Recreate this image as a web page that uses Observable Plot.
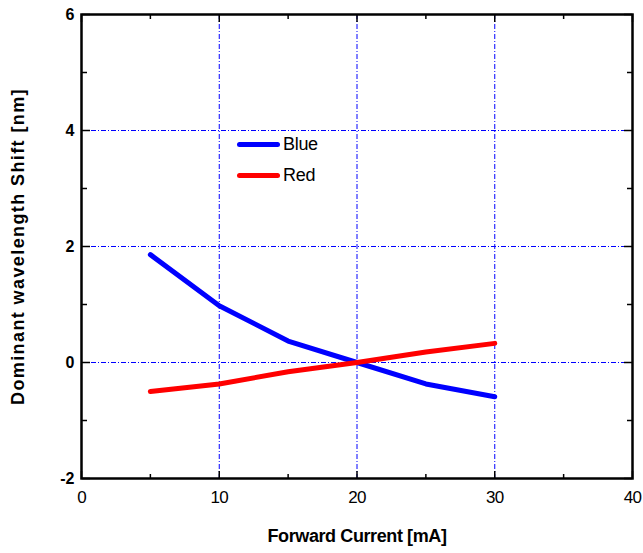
<!DOCTYPE html>
<html><head><meta charset="utf-8">
<script src="https://cdn.jsdelivr.net/npm/d3@7"></script>
<script src="https://cdn.jsdelivr.net/npm/@observablehq/plot@0.6"></script>
<style>
html,body{margin:0;padding:0;background:#fff;}
#wrap{position:relative;width:643px;height:553px;overflow:hidden;}
.leg{position:absolute;left:237px;display:flex;align-items:center;font:18px "Liberation Sans",Arial,sans-serif;color:#000;letter-spacing:-0.3px;}
.sw{width:43px;height:5px;border-radius:3px;margin-right:3px;}
</style></head><body><div id="wrap"></div>
<script>
const current = [5, 10, 15, 20, 25, 30];
const blueShift = [1.86, 0.98, 0.37, 0, -0.37, -0.59];
const redShift = [-0.5, -0.37, -0.16, 0, 0.18, 0.33];
const seriesNames = ["Blue", "Red"];
const seriesColors = ["#0000ff", "#ff0000"];
const xMajorTicks = [0, 10, 20, 30, 40];
const xMinorTicks = [5, 15, 25, 35];
const yMajorTicks = [-2, 0, 2, 4, 6];
const yMinorTicks = [-1, 1, 3, 5];
const xGrid = [10, 20, 30];
const yGrid = [0, 2, 4];
const xTitle = "Forward Current [mA]";
const yTitle = "Dominant wavelength Shift [nm]";

const rows = [];
current.forEach((c, i) => rows.push({x: c, y: blueShift[i], s: seriesNames[0]}));
current.forEach((c, i) => rows.push({x: c, y: redShift[i], s: seriesNames[1]}));

const font = '"Liberation Sans", Arial, sans-serif';
const gridStyle = {stroke: "#0000ff", strokeOpacity: 1, strokeWidth: 1, strokeDasharray: "5,2,1,2"};
const tk = {fill: "none", label: null, stroke: "black", strokeWidth: 1.5};
const plain = d => String(d);

const chart = Plot.plot({
  width: 643, height: 553,
  marginLeft: 81, marginRight: 11, marginTop: 14, marginBottom: 75,
  x: {domain: [0, 40]},
  y: {domain: [-2, 6]},
  color: {domain: seriesNames, range: seriesColors},
  style: {fontFamily: font, background: "white", color: "black"},
  marks: [
    Plot.gridX(xGrid, gridStyle),
    Plot.gridY(yGrid, gridStyle),
    Plot.line(rows, {x: "x", y: "y", z: "s", stroke: "s", strokeWidth: 5, strokeLinecap: "round", strokeLinejoin: "round"}),
    // inward ticks on all four sides
    Plot.axisX(xMajorTicks, {...tk, anchor: "top", frameAnchor: "bottom", tickSize: 8}),
    Plot.axisX(xMinorTicks, {...tk, anchor: "top", frameAnchor: "bottom", tickSize: 5}),
    Plot.axisX(xMajorTicks, {...tk, anchor: "bottom", frameAnchor: "top", tickSize: 8}),
    Plot.axisX(xMinorTicks, {...tk, anchor: "bottom", frameAnchor: "top", tickSize: 5}),
    Plot.axisY(yMajorTicks, {...tk, anchor: "right", frameAnchor: "left", tickSize: 8}),
    Plot.axisY(yMinorTicks, {...tk, anchor: "right", frameAnchor: "left", tickSize: 5}),
    Plot.axisY(yMajorTicks, {...tk, anchor: "left", frameAnchor: "right", tickSize: 8}),
    Plot.axisY(yMinorTicks, {...tk, anchor: "left", frameAnchor: "right", tickSize: 5}),
    // labels
    Plot.axisX(xMajorTicks, {anchor: "bottom", tickSize: 0, tickPadding: 12, fontSize: 17, label: null, fill: "black", tickFormat: plain}),
    Plot.axisY(yMajorTicks, {anchor: "left", tickSize: 0, tickPadding: 7, fontSize: 16, fontWeight: "bold", label: null, fill: "black", tickFormat: plain}),
    Plot.frame({stroke: "black", strokeWidth: 2.5}),
    Plot.text([xTitle], {text: d => d, frameAnchor: "bottom", dy: 63, fontSize: 18, fontWeight: "bold", fill: "black"}),
    Plot.text([yTitle], {text: d => d, frameAnchor: "left", textAnchor: "middle", rotate: -90, dx: -63, fontSize: 18, fontWeight: "bold", fill: "black"})
  ]
});

const wrap = document.getElementById("wrap");
wrap.appendChild(chart);
d3.select(chart).selectAll('g[aria-label="x-axis tick label"] text').style("letter-spacing", "-0.8px");
const texts = d3.select(chart).selectAll('g[aria-label="text"] text');
texts.filter(function(){ return this.textContent === xTitle; }).style("letter-spacing", "-0.4px");
texts.filter(function(){ return this.textContent === yTitle; }).style("letter-spacing", "1.4px");

const legTops = [144, 175];
seriesNames.forEach((n, i) => {
  const d = document.createElement("div");
  d.className = "leg";
  d.style.top = (legTops[i] - 11) + "px";
  d.style.height = "22px";
  d.innerHTML = `<span class="sw" style="background:${seriesColors[i]}"></span><span>${n}</span>`;
  wrap.appendChild(d);
});
</script>
</body></html>
